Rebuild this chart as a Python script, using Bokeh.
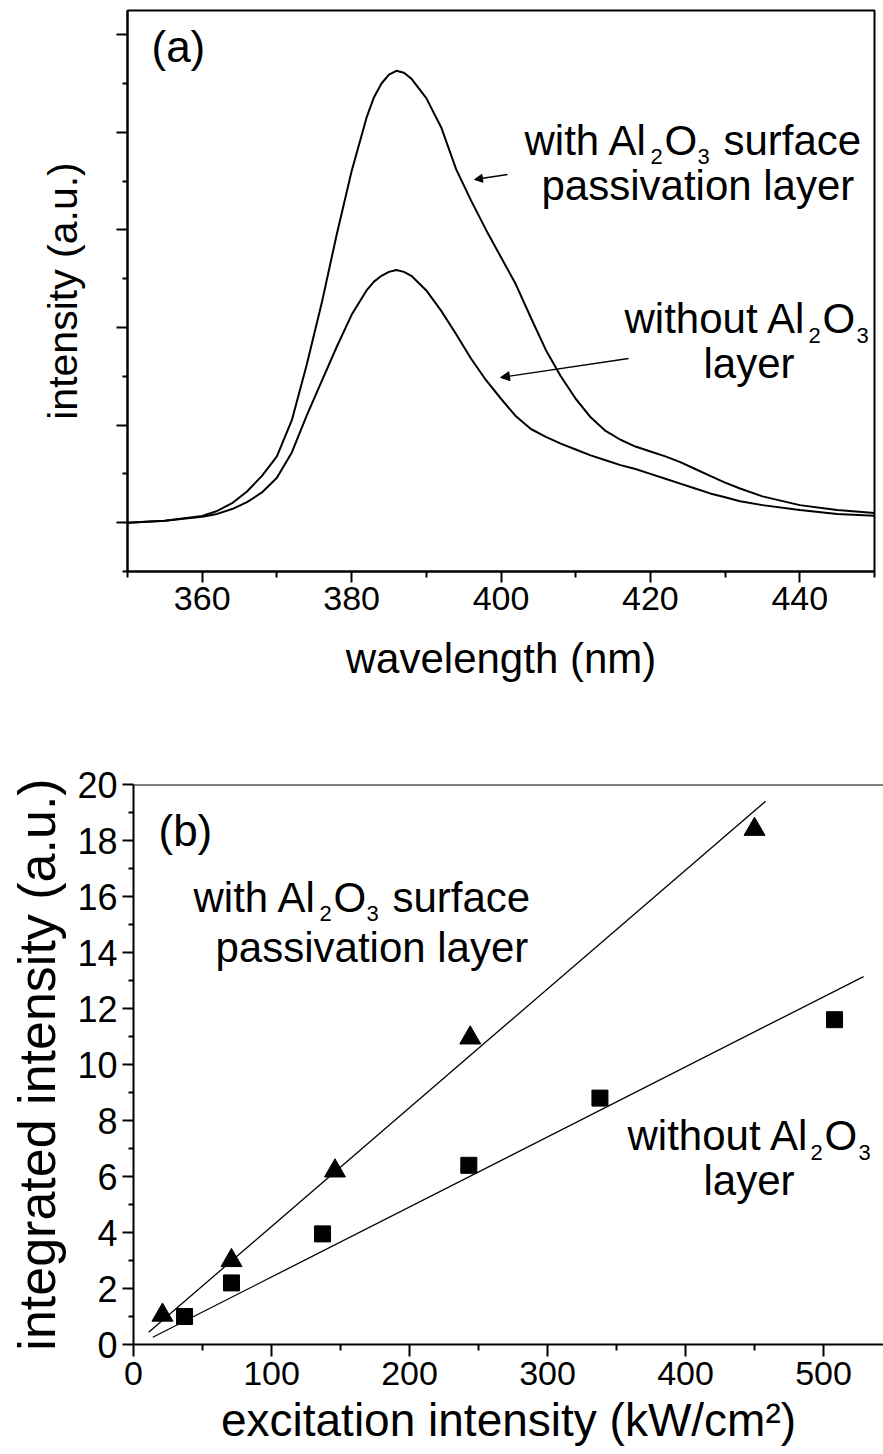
from bokeh.plotting import figure
from bokeh.models import FixedTicker, Label, Arrow, NormalHead, Span, CustomJSTickFormatter, Range1d
from bokeh.embed import file_html
from bokeh.resources import INLINE

# ---------------- data: panel (a) PL spectra ----------------
wavelength = [350, 355, 360, 362, 364, 366, 368, 370, 372, 374, 376, 378, 380, 382, 383, 384, 385,
              386, 387, 388, 390, 392, 394, 396, 398, 400, 402, 404, 406, 408, 410, 412, 414, 416,
              418, 420, 422, 424, 426, 428, 430, 432, 435, 440, 445, 450]
with_al2o3 = [0.00, 0.02, 0.07, 0.12, 0.20, 0.32, 0.48, 0.68, 1.05, 1.62, 2.25, 2.95, 3.60, 4.15,
              4.36, 4.50, 4.59, 4.63, 4.61, 4.55, 4.35, 4.05, 3.62, 3.30, 3.00, 2.72, 2.44, 2.10,
              1.77, 1.50, 1.27, 1.08, 0.94, 0.85, 0.78, 0.73, 0.68, 0.62, 0.55, 0.48, 0.41, 0.35,
              0.27, 0.18, 0.13, 0.10]
without_al2o3 = [0.00, 0.02, 0.06, 0.09, 0.14, 0.21, 0.31, 0.46, 0.72, 1.10, 1.45, 1.80, 2.13, 2.38,
                 2.47, 2.53, 2.57, 2.59, 2.57, 2.53, 2.38, 2.17, 1.93, 1.68, 1.46, 1.27, 1.09, 0.96,
                 0.88, 0.81, 0.75, 0.69, 0.64, 0.59, 0.55, 0.50, 0.45, 0.40, 0.35, 0.30, 0.26, 0.22,
                 0.18, 0.13, 0.09, 0.07]

# ---------------- data: panel (b) integrated intensity ----------------
exc_with = [21, 71, 146, 244, 450]
int_with = [1.05, 3.0, 6.2, 10.95, 18.4]
exc_without = [37, 71, 137, 243, 338, 508]
int_without = [1.0, 2.2, 3.95, 6.4, 8.8, 11.6]
fit_with_x = [11, 458]
fit_with_y = [0.44, 19.4]
fit_without_x = [14, 529]
fit_without_y = [0.26, 13.14]

a_xticks = [360, 380, 400, 420, 440]
a_xminor = [350, 370, 390, 410, 430, 450]
a_yticks = [0, 1, 2, 3, 4, 5]
a_yminor = [-0.5, 0.5, 1.5, 2.5, 3.5, 4.5]
b_xticks = [0, 100, 200, 300, 400, 500]
b_xminor = [50, 150, 250, 350, 450]
b_yticks = [0, 2, 4, 6, 8, 10, 12, 14, 16, 18, 20]
b_yminor = [1, 3, 5, 7, 9, 11, 13, 15, 17, 19]

FONT = "Liberation Sans"
W = 883
LBL_SHIFT = 15  # screen px correction for label baseline


def style_axis(ax, major_out, minor_out, label_size, axis_label_size, standoff, label_standoff):
    ax.axis_line_width = 2
    ax.axis_line_color = "black"
    ax.major_tick_line_width = 2
    ax.minor_tick_line_width = 2
    ax.major_tick_line_color = "black"
    ax.minor_tick_line_color = "black"
    ax.major_tick_in = 0
    ax.major_tick_out = major_out
    ax.minor_tick_in = 0
    ax.minor_tick_out = minor_out
    ax.major_label_text_font = FONT
    ax.major_label_text_font_size = label_size
    ax.major_label_text_color = "black"
    ax.major_label_standoff = label_standoff
    ax.axis_label_text_font = FONT
    ax.axis_label_text_font_size = axis_label_size
    ax.axis_label_text_font_style = "normal"
    ax.axis_label_text_color = "black"
    ax.axis_label_standoff = standoff


def add_label(p, x, y, text, size):
    p.add_layout(Label(x=x, y=y, text=text, text_font=FONT, text_font_size=f"{size}px",
                       text_align="left", text_baseline="alphabetic", text_color="black"))


# ================= panel (a) =================
A_L, A_R, A_T, A_B, A_H = 127, 874, 10, 571, 700
pa = figure(width=W, height=A_H, x_range=Range1d(350, 450), y_range=Range1d(-0.5, 5.248),
            output_backend="svg", toolbar_location=None,
            min_border_left=A_L, min_border_right=W - A_R, min_border_top=A_T,
            min_border_bottom=A_H - A_B)
pa.grid.visible = False
pa.outline_line_color = "black"
pa.outline_line_width = 2
pa.background_fill_color = "white"
pa.border_fill_color = "white"

pa.line(wavelength, with_al2o3, line_width=2, color="black")
pa.line(wavelength, without_al2o3, line_width=2, color="black")

pa.xaxis.ticker = FixedTicker(ticks=a_xticks, minor_ticks=a_xminor)
pa.yaxis.ticker = FixedTicker(ticks=a_yticks, minor_ticks=a_yminor)
pa.yaxis.formatter = CustomJSTickFormatter(code="return ''")
pa.xaxis.axis_label = "wavelength (nm)"
pa.yaxis.axis_label = "intensity (a.u.)"
style_axis(pa.xaxis[0], 11, 6, "34px", "42px", 22, 4)
style_axis(pa.yaxis[0], 11, 5, "34px", "41px", 31, 0)


def ax_(px):
    return 350 + (px - A_L) * 100.0 / (A_R - A_L)


def ay_(py):
    return -0.5 + (A_B - (py - LBL_SHIFT)) * 5.748 / (A_B - A_T)


def ay_raw(py):
    return -0.5 + (A_B - py) * 5.748 / (A_B - A_T)


add_label(pa, ax_(151), ay_(61), "(a)", 44)
# with Al2O3 surface / passivation layer
add_label(pa, ax_(524), ay_(155), "with Al", 42)
add_label(pa, ax_(650), ay_(171), "2", 22)
add_label(pa, ax_(664), ay_(155), "O", 42)
add_label(pa, ax_(697), ay_(171), "3", 22)
add_label(pa, ax_(723), ay_(155), "surface", 42)
add_label(pa, ax_(541), ay_(200), "passivation layer", 42)
# without Al2O3 layer
add_label(pa, ax_(624), ay_(333), "without Al", 42)
add_label(pa, ax_(808), ay_(350), "2", 22)
add_label(pa, ax_(822), ay_(333), "O", 42)
add_label(pa, ax_(856), ay_(350), "3", 22)
add_label(pa, ax_(703), ay_(378), "layer", 42)

pa.add_layout(Arrow(end=NormalHead(size=8, fill_color="black", line_color="black", line_width=1),
                    x_start=ax_(507), y_start=ay_raw(174), x_end=ax_(474), y_end=ay_raw(179),
                    line_width=1.3, line_color="black"))
pa.add_layout(Arrow(end=NormalHead(size=9, fill_color="black", line_color="black", line_width=1),
                    x_start=ax_(628), y_start=ay_raw(358), x_end=ax_(500), y_end=ay_raw(377),
                    line_width=1.3, line_color="black"))

# ================= panel (b) =================
B_H = 1454 - A_H
B_L, B_R, B_T, B_B = 133, 883, 784 - A_H, 1344 - A_H
b_xmax = (B_R - B_L) / 1.38
pb = figure(width=W, height=B_H, x_range=Range1d(0, b_xmax), y_range=Range1d(0, 20),
            output_backend="svg", toolbar_location=None,
            min_border_left=B_L, min_border_right=W - B_R, min_border_top=B_T,
            min_border_bottom=B_H - B_B)
pb.grid.visible = False
pb.outline_line_color = None
pb.background_fill_color = "white"
pb.border_fill_color = "white"
pb.add_layout(Span(location=20, dimension="width", line_color="black", line_width=2))

pb.line(fit_with_x, fit_with_y, line_width=1.3, color="black")
pb.line(fit_without_x, fit_without_y, line_width=1.3, color="black")
pb.scatter(exc_with, int_with, marker="triangle", size=21, color="black")
pb.scatter(exc_without, int_without, marker="square", size=16, color="black")

pb.xaxis.ticker = FixedTicker(ticks=b_xticks, minor_ticks=b_xminor)
pb.yaxis.ticker = FixedTicker(ticks=b_yticks, minor_ticks=b_yminor)
pb.xaxis.axis_label = "excitation intensity (kW/cm\u00b2)"
pb.yaxis.axis_label = "integrated intensity (a.u.)"
style_axis(pb.xaxis[0], 12, 6, "34px", "46px", 6, 5)
style_axis(pb.yaxis[0], 11, 5, "36px", "52px", 8, 5)


def bx_(px):
    return (px - B_L) / 1.38


def by_(py):
    return (1344 - (py - LBL_SHIFT)) / 28.0


add_label(pb, bx_(158), by_(845), "(b)", 44)
add_label(pb, bx_(193), by_(912), "with Al", 42)
add_label(pb, bx_(319), by_(928), "2", 22)
add_label(pb, bx_(333), by_(912), "O", 42)
add_label(pb, bx_(366), by_(928), "3", 22)
add_label(pb, bx_(392), by_(912), "surface", 42)
add_label(pb, bx_(215), by_(962), "passivation layer", 42)
add_label(pb, bx_(627), by_(1150), "without Al", 42)
add_label(pb, bx_(810), by_(1167), "2", 22)
add_label(pb, bx_(824), by_(1150), "O", 42)
add_label(pb, bx_(858), by_(1167), "3", 22)
add_label(pb, bx_(703), by_(1195), "layer", 42)

open("out.html", "w").write(file_html([pa, pb], INLINE))
